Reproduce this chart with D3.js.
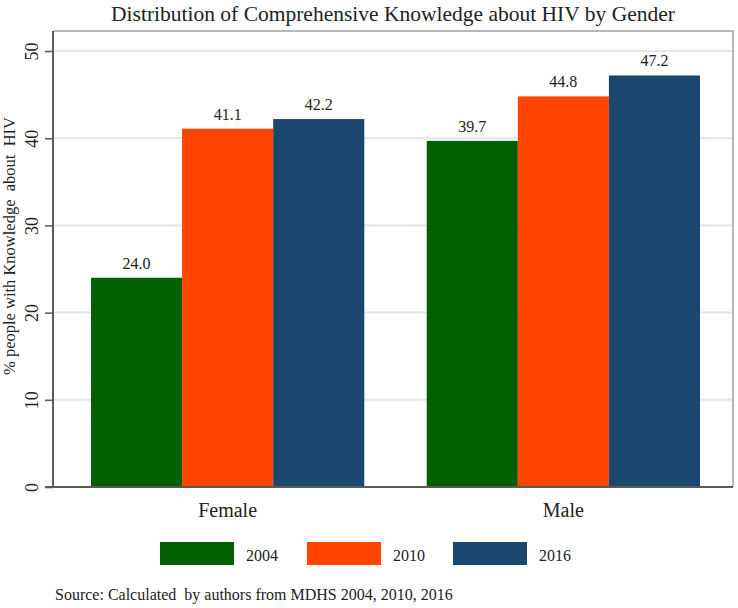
<!DOCTYPE html>
<html><head><meta charset="utf-8">
<script src="https://cdn.jsdelivr.net/npm/d3@7"></script>
<style>body{margin:0;background:#fff}svg{display:block}text{font-family:"Liberation Serif","Times New Roman",serif;fill:#222;white-space:pre}</style>
</head><body><svg id="c" width="738" height="608"></svg>
<script>
const categories = ["Female", "Male"];
const years = ["2004", "2010", "2016"];
const v2004 = [24.0, 39.7];
const v2010 = [41.1, 44.8];
const v2016 = [42.2, 47.2];
const yTicks = [0, 10, 20, 30, 40, 50];
const colors = ["#005f00", "#ff4500", "#1a476f"];
const series = [v2004, v2010, v2016];

const svg = d3.select("#c");
const L = 53, R = 733, T = 31, B = 487;

const x0 = d3.scaleBand().domain(categories).range([91, 700]).paddingInner(0.186).paddingOuter(0);
const x1 = d3.scaleBand().domain(years).range([0, x0.bandwidth()]).padding(0);
const y = d3.scaleLinear().domain([0, 52.3]).range([B, T]);

// gridlines
svg.append("g").selectAll("line").data(yTicks.filter(d => d > 0)).join("line")
  .attr("x1", L).attr("x2", R).attr("y1", d => y(d)).attr("y2", d => y(d))
  .attr("stroke", "#e6e6e6").attr("stroke-width", 2);

// frame top/right
svg.append("path").attr("d", `M${L},${T}H${R}V${B}`).attr("fill", "none").attr("stroke", "#b8b8b8").attr("stroke-width", 2);

// bars
const rows = [];
categories.forEach((c, i) => years.forEach((yr, j) => rows.push({c, yr, v: series[j][i], col: colors[j]})));
svg.append("g").selectAll("rect").data(rows).join("rect")
  .attr("x", d => x0(d.c) + x1(d.yr)).attr("width", x1.bandwidth())
  .attr("y", d => y(d.v)).attr("height", d => y(0) - y(d.v)).attr("fill", d => d.col);
svg.append("g").selectAll("text").data(rows).join("text")
  .attr("x", d => x0(d.c) + x1(d.yr) + x1.bandwidth() / 2).attr("y", d => y(d.v) - 9)
  .attr("text-anchor", "middle").attr("font-size", 16).text(d => d.v.toFixed(1));

// y axis
const ya = svg.append("g").attr("transform", `translate(${L},0)`).call(d3.axisLeft(y).tickValues(yTicks).tickSize(8).tickFormat(d3.format("d")));
ya.select(".domain").attr("d", `M0,${B}V${T}`).attr("stroke", "#5a5a5a").attr("stroke-width", 2);
ya.selectAll(".tick line").attr("stroke", "#5a5a5a").attr("stroke-width", 1.5);
ya.selectAll(".tick text").attr("font-family", "Liberation Serif, serif").attr("font-size", 18).attr("fill", "#222")
  .attr("transform", "rotate(-90)").attr("x", 0).attr("dy", 0).attr("y", -15).attr("text-anchor", "middle");
// x baseline
svg.append("line").attr("x1", L - 8).attr("x2", R).attr("y1", B).attr("y2", B).attr("stroke", "#5a5a5a").attr("stroke-width", 2);

// category labels
svg.append("g").selectAll("text").data(categories).join("text")
  .attr("x", d => x0(d) + x0.bandwidth() / 2).attr("y", 517).attr("text-anchor", "middle").attr("font-size", 20).text(d => d);

// y title
svg.append("text").attr("transform", "translate(15,246) rotate(-90)").attr("text-anchor", "middle").attr("font-size", 16.5).text("% people with Knowledge  about  HIV");

// title
svg.append("text").attr("x", (L + R) / 2).attr("y", 21).attr("text-anchor", "middle").attr("font-size", 21.5).text("Distribution of Comprehensive Knowledge about HIV by Gender");

// legend
const lx = [160, 307, 453];
const lg = svg.append("g").selectAll("g").data(years).join("g").attr("transform", (d, i) => `translate(${lx[i]},542)`);
lg.append("rect").attr("width", 74).attr("height", 23).attr("fill", (d, i) => colors[i]);
lg.append("text").attr("x", 86).attr("y", 19).attr("font-size", 16).text(d => d);

// source
svg.append("text").attr("x", 55).attr("y", 600).attr("font-size", 16).text("Source: Calculated  by authors from MDHS 2004, 2010, 2016");
</script></body></html>
